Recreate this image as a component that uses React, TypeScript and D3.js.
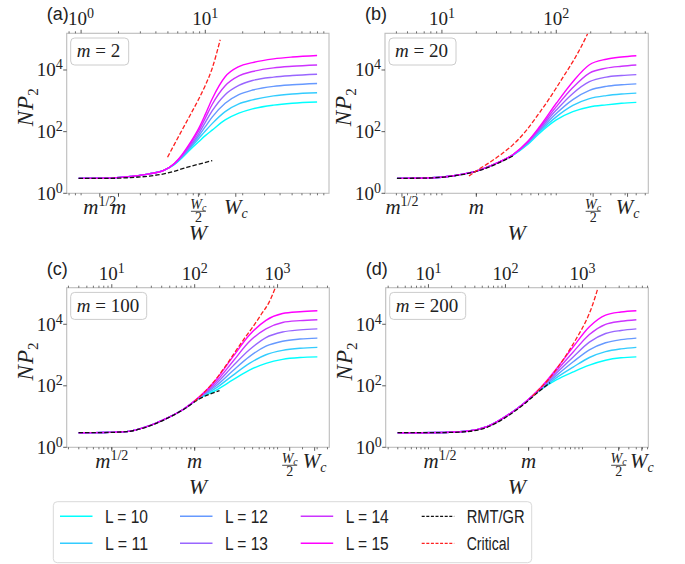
import React from "react";
import * as d3 from "d3";

// ---------------- DATA (log10 W grid, log10 N·P2 values) ----------------
const Ls = [10, 11, 12, 13, 14, 15];
const mValues = [2, 20, 100, 200];
const WcValues = [17.6, 420, 2800, 5900];
const panelLetters = ["(a)", "(b)", "(c)", "(d)"];
const yTickExps = [0, 2, 4];
const legendRMT = "RMT/GR";
const legendCrit = "Critical";

// panel (a): m = 2
const a_logW = [-0.02, 0.2, 0.4, 0.55, 0.67, 0.75, 0.81, 0.88, 0.946, 1.0, 1.055, 1.16, 1.27, 1.38, 1.55, 1.7, 1.9];
const a_L10 = [0.485, 0.49, 0.55, 0.63, 0.75, 0.93, 1.14, 1.42, 1.67, 1.87, 2.05, 2.38, 2.60, 2.74, 2.86, 2.92, 2.96];
const a_L11 = [0.485, 0.49, 0.55, 0.63, 0.75, 0.94, 1.16, 1.47, 1.77, 2.02, 2.26, 2.65, 2.90, 3.03, 3.16, 3.22, 3.26];
const a_L12 = [0.485, 0.49, 0.55, 0.63, 0.75, 0.95, 1.18, 1.51, 1.85, 2.16, 2.47, 2.92, 3.20, 3.35, 3.47, 3.52, 3.56];
const a_L13 = [0.485, 0.49, 0.55, 0.63, 0.75, 0.95, 1.20, 1.55, 1.93, 2.30, 2.67, 3.20, 3.50, 3.66, 3.77, 3.82, 3.86];
const a_L14 = [0.485, 0.49, 0.55, 0.63, 0.75, 0.96, 1.22, 1.60, 2.02, 2.44, 2.88, 3.49, 3.81, 3.95, 4.07, 4.12, 4.16];
const a_L15 = [0.485, 0.49, 0.55, 0.63, 0.75, 0.97, 1.24, 1.65, 2.10, 2.56, 3.06, 3.78, 4.11, 4.24, 4.36, 4.42, 4.47];
const a_rmtW = [-0.02, 0.2, 0.4, 0.55, 0.7, 0.85, 0.95, 1.056];
const a_rmt = [0.485, 0.485, 0.51, 0.56, 0.66, 0.84, 0.95, 1.06];
const a_critW = [0.696, 0.75, 0.81, 0.88, 0.946, 1.0, 1.055, 1.12];
const a_crit = [1.17, 1.58, 2.03, 2.55, 3.05, 3.50, 4.05, 4.98];

// panel (b): m = 20
const b_logW = [0.607, 0.8, 1.0, 1.15, 1.31, 1.475, 1.62, 1.75, 1.854, 2.0, 2.145, 2.29, 2.437, 2.57, 2.70];
const b_L10 = [0.485, 0.49, 0.52, 0.60, 0.73, 0.97, 1.23, 1.58, 1.95, 2.38, 2.65, 2.80, 2.87, 2.92, 2.95];
const b_L11 = [0.485, 0.49, 0.52, 0.60, 0.73, 0.97, 1.24, 1.61, 2.00, 2.48, 2.85, 3.07, 3.17, 3.22, 3.25];
const b_L12 = [0.485, 0.49, 0.52, 0.60, 0.73, 0.97, 1.24, 1.63, 2.04, 2.59, 3.04, 3.34, 3.47, 3.52, 3.55];
const b_L13 = [0.485, 0.49, 0.52, 0.60, 0.73, 0.97, 1.25, 1.65, 2.08, 2.70, 3.24, 3.62, 3.77, 3.82, 3.85];
const b_L14 = [0.485, 0.49, 0.52, 0.60, 0.73, 0.97, 1.25, 1.67, 2.12, 2.81, 3.43, 3.90, 4.06, 4.12, 4.16];
const b_L15 = [0.485, 0.49, 0.52, 0.60, 0.73, 0.97, 1.25, 1.68, 2.16, 2.92, 3.62, 4.17, 4.35, 4.42, 4.46];
const b_rmtW = [0.607, 0.8, 1.0, 1.15, 1.31, 1.475, 1.62];
const b_rmt = [0.485, 0.49, 0.52, 0.59, 0.72, 0.95, 1.21];
const b_critW = [1.236, 1.31, 1.417, 1.52, 1.62, 1.74, 1.854, 1.93, 2.0, 2.07, 2.145, 2.21, 2.276];
const b_crit = [0.56, 0.75, 1.0, 1.27, 1.57, 2.05, 2.62, 3.02, 3.42, 3.83, 4.27, 4.70, 5.19];

// panel (c): m = 100
const c_logW = [0.60, 0.9, 1.18, 1.42, 1.66, 1.86, 2.06, 2.26, 2.46, 2.66, 2.86, 3.06, 3.27, 3.48];
const c_L10 = [0.475, 0.48, 0.51, 0.67, 0.94, 1.23, 1.60, 1.86, 2.19, 2.51, 2.73, 2.86, 2.92, 2.94];
const c_L11 = [0.475, 0.48, 0.51, 0.67, 0.94, 1.23, 1.61, 1.93, 2.34, 2.73, 3.01, 3.15, 3.22, 3.25];
const c_L12 = [0.475, 0.48, 0.51, 0.67, 0.94, 1.23, 1.62, 2.00, 2.49, 2.95, 3.29, 3.45, 3.52, 3.55];
const c_L13 = [0.475, 0.48, 0.51, 0.67, 0.94, 1.23, 1.63, 2.07, 2.64, 3.17, 3.57, 3.75, 3.82, 3.85];
const c_L14 = [0.475, 0.48, 0.51, 0.67, 0.94, 1.23, 1.64, 2.14, 2.79, 3.44, 3.85, 4.06, 4.12, 4.15];
const c_L15 = [0.475, 0.48, 0.51, 0.67, 0.94, 1.23, 1.65, 2.21, 2.94, 3.65, 4.13, 4.35, 4.41, 4.44];
const c_rmtW = [0.60, 0.9, 1.18, 1.42, 1.66, 1.86, 2.06, 2.30];
const c_rmt = [0.475, 0.48, 0.51, 0.66, 0.93, 1.22, 1.58, 1.84];
const c_critW = [2.0, 2.1, 2.2, 2.3, 2.4, 2.5, 2.6, 2.7, 2.8, 2.9, 2.97];
const c_crit = [1.50, 1.75, 2.03, 2.37, 2.75, 3.15, 3.54, 3.91, 4.31, 4.73, 5.17];

// panel (d): m = 200
const d_logW = [0.60, 0.9, 1.2, 1.5, 1.76, 2.02, 2.23, 2.45, 2.66, 2.88, 3.09, 3.3, 3.5, 3.70];
const d_L10 = [0.475, 0.475, 0.48, 0.52, 0.67, 1.03, 1.41, 1.86, 2.19, 2.45, 2.67, 2.83, 2.91, 2.94];
const d_L11 = [0.475, 0.475, 0.48, 0.52, 0.67, 1.03, 1.41, 1.87, 2.26, 2.61, 2.92, 3.11, 3.20, 3.25];
const d_L12 = [0.475, 0.475, 0.48, 0.52, 0.67, 1.03, 1.41, 1.88, 2.33, 2.78, 3.17, 3.40, 3.50, 3.55];
const d_L13 = [0.475, 0.475, 0.48, 0.52, 0.67, 1.03, 1.41, 1.89, 2.41, 2.94, 3.42, 3.70, 3.80, 3.85];
const d_L14 = [0.475, 0.475, 0.48, 0.52, 0.67, 1.03, 1.41, 1.91, 2.48, 3.10, 3.67, 4.00, 4.10, 4.15];
const d_L15 = [0.475, 0.475, 0.48, 0.52, 0.67, 1.03, 1.41, 1.92, 2.55, 3.27, 3.92, 4.30, 4.40, 4.44];
const d_rmtW = [0.60, 0.9, 1.2, 1.5, 1.76, 2.02, 2.23, 2.45, 2.58];
const d_rmt = [0.475, 0.475, 0.48, 0.51, 0.65, 1.0, 1.38, 1.85, 2.10];
const d_critW = [2.35, 2.45, 2.55, 2.65, 2.75, 2.85, 2.95, 3.05, 3.12, 3.20];
const d_crit = [1.66, 1.92, 2.18, 2.50, 2.85, 3.24, 3.66, 4.13, 4.55, 5.17];

const panelData = [
  { grid: a_logW, curves: [a_L10, a_L11, a_L12, a_L13, a_L14, a_L15], rmtW: a_rmtW, rmt: a_rmt, critW: a_critW, crit: a_crit },
  { grid: b_logW, curves: [b_L10, b_L11, b_L12, b_L13, b_L14, b_L15], rmtW: b_rmtW, rmt: b_rmt, critW: b_critW, crit: b_crit },
  { grid: c_logW, curves: [c_L10, c_L11, c_L12, c_L13, c_L14, c_L15], rmtW: c_rmtW, rmt: c_rmt, critW: c_critW, crit: c_crit },
  { grid: d_logW, curves: [d_L10, d_L11, d_L12, d_L13, d_L14, d_L15], rmtW: d_rmtW, rmt: d_rmt, critW: d_critW, crit: d_crit },
];

// ---------------- LAYOUT / STYLE ----------------
const W = 685;
const H = 564;
const boxes = [
  { x0: 66.7, x1: 329, y0: 33.3, y1: 193.3 },
  { x0: 385, x1: 648.3, y0: 33.3, y1: 193.3 },
  { x0: 66.7, x1: 329.3, y0: 287.7, y1: 447.3 },
  { x0: 385.7, x1: 648.3, y0: 287.7, y1: 447.3 },
];
const yTopLog = 5.19;
const lineColors = ["#00ffff", "#33ccff", "#6699ff", "#9966ff", "#cc33ff", "#ff00ff"];
const critColor = "#ff2020";
const rmtColor = "#111111";
const spineColor = "#bdbdbd";
const tickColor = "#333333";
const SERIF = "'Liberation Serif', 'DejaVu Serif', serif";
const SANS = "'Liberation Sans', Arial, sans-serif";
const legendTextWidths: Record<string, number> = { RMT: 58, Crit: 43, L: 43 };

type Pt = [number, number];

function Panel({ idx }: { idx: number }) {
  const box = boxes[idx];
  const data = panelData[idx];
  const m = mValues[idx];
  const Wc = WcValues[idx];
  const allW = [...data.grid, ...data.rmtW, ...data.critW];
  const [mn, mx] = d3.extent(allW) as [number, number];
  const pad = (mx - mn) * 0.05;
  const x = d3.scaleLog().domain([Math.pow(10, mn - pad), Math.pow(10, mx + pad)]).range([box.x0, box.x1]);
  const y = d3.scaleLog().domain([1, Math.pow(10, yTopLog)]).range([box.y1, box.y0]);
  const line = d3
    .line<Pt>()
    .x((d) => x(Math.pow(10, d[0])))
    .y((d) => y(Math.pow(10, d[1])))
    .curve(d3.curveMonotoneX);

  const lo = mn - pad;
  const hi = mx + pad;
  const minors: number[] = [];
  const majors: number[] = [];
  for (let k = Math.floor(lo); k <= Math.ceil(hi); k++) {
    for (let n = 1; n <= 9; n++) {
      const v = n * Math.pow(10, k);
      const lv = Math.log10(v);
      if (lv >= lo && lv <= hi) {
        if (n === 1) majors.push(k);
        else minors.push(v);
      }
    }
  }
  const clipId = `clip-${idx}`;
  const mDigits = String(m).length;
  const annW = 49 + 9 * mDigits;
  const xMid = (box.x0 + box.x1) / 2;
  const yMid = (box.y0 + box.y1) / 2;
  const bottomMajors = [Math.sqrt(m), m, Wc / 2, Wc];
  const tickLabY = box.y1 + 21;

  return (
    <g>
      <defs>
        <clipPath id={clipId}>
          <rect x={box.x0} y={box.y0} width={box.x1 - box.x0} height={box.y1 - box.y0} />
        </clipPath>
      </defs>
      <rect x={box.x0} y={box.y0} width={box.x1 - box.x0} height={box.y1 - box.y0} fill="white" />
      <g clipPath={`url(#${clipId})`}>
        {data.curves.map((c, i) => (
          <path
            key={i}
            d={line(data.grid.map((w, j) => [w, c[j]] as Pt)) || ""}
            fill="none"
            stroke={lineColors[i]}
            strokeWidth={1.4}
          />
        ))}
        <path
          d={line(data.rmtW.map((w, j) => [w, data.rmt[j]] as Pt)) || ""}
          fill="none"
          stroke={rmtColor}
          strokeWidth={1.3}
          strokeDasharray="4.4,2"
        />
        <path
          d={line(data.critW.map((w, j) => [w, data.crit[j]] as Pt)) || ""}
          fill="none"
          stroke={critColor}
          strokeWidth={1.3}
          strokeDasharray="4.4,2"
        />
      </g>
      <rect
        x={box.x0}
        y={box.y0}
        width={box.x1 - box.x0}
        height={box.y1 - box.y0}
        fill="none"
        stroke={spineColor}
        strokeWidth={1.1}
      />
      {/* top axis */}
      {minors.map((v, i) => (
        <line key={"tm" + i} x1={x(v)} x2={x(v)} y1={box.y0} y2={box.y0 - 2} stroke={tickColor} strokeWidth={0.7} />
      ))}
      {majors.map((k) => (
        <g key={"tM" + k}>
          <line x1={x(Math.pow(10, k))} x2={x(Math.pow(10, k))} y1={box.y0} y2={box.y0 - 3.5} stroke={tickColor} strokeWidth={0.8} />
          <text x={x(Math.pow(10, k))} y={box.y0 - 8} textAnchor="middle" fontFamily={SERIF} fontSize={19} fill="#222">
            10<tspan dy={-7} fontSize={14}>{k}</tspan>
          </text>
        </g>
      ))}
      {/* bottom axis */}
      {[...minors, ...majors.map((k) => Math.pow(10, k))].map((v, i) => (
        <line key={"bm" + i} x1={x(v)} x2={x(v)} y1={box.y1} y2={box.y1 + 2} stroke={tickColor} strokeWidth={0.7} />
      ))}
      {bottomMajors.map((v, i) => (
        <line key={"bM" + i} x1={x(v)} x2={x(v)} y1={box.y1} y2={box.y1 + 3.5} stroke={tickColor} strokeWidth={0.8} />
      ))}
      <text x={x(bottomMajors[0])} y={tickLabY} textAnchor="middle" fontFamily={SERIF} fontSize={21} fill="#222">
        <tspan fontStyle="italic">m</tspan>
        <tspan dy={-8} fontSize={14}>1/2</tspan>
      </text>
      <text x={x(bottomMajors[1])} y={tickLabY} textAnchor="middle" fontFamily={SERIF} fontSize={21} fontStyle="italic" fill="#222">
        m
      </text>
      <g>
        <text x={x(bottomMajors[2])} y={box.y1 + 15.5} textAnchor="middle" fontFamily={SERIF} fontSize={14} fill="#222">
          <tspan fontStyle="italic">W</tspan>
          <tspan dy={2.5} fontSize={10} fontStyle="italic">c</tspan>
        </text>
        <line x1={x(bottomMajors[2]) - 7.5} x2={x(bottomMajors[2]) + 7.5} y1={box.y1 + 18} y2={box.y1 + 18} stroke="#222" strokeWidth={0.8} />
        <text x={x(bottomMajors[2])} y={box.y1 + 28.5} textAnchor="middle" fontFamily={SERIF} fontSize={14} fill="#222">
          2
        </text>
      </g>
      <text x={x(bottomMajors[3])} y={tickLabY} textAnchor="middle" fontFamily={SERIF} fontSize={21} fill="#222">
        <tspan fontStyle="italic">W</tspan>
        <tspan dy={4} fontSize={14} fontStyle="italic">c</tspan>
      </text>
      {/* left axis */}
      {yTickExps.map((e) => (
        <g key={"y" + e}>
          <line x1={box.x0} x2={box.x0 - 3.5} y1={y(Math.pow(10, e))} y2={y(Math.pow(10, e))} stroke={tickColor} strokeWidth={0.8} />
          <text x={box.x0 - 4} y={y(Math.pow(10, e)) + 6.5} textAnchor="end" fontFamily={SERIF} fontSize={19} fill="#222">
            10<tspan dy={-7} fontSize={14}>{e}</tspan>
          </text>
        </g>
      ))}
      {/* axis labels */}
      <text
        transform={`translate(${box.x0 - 34},${yMid - 6}) rotate(-90)`}
        textAnchor="middle"
        fontFamily={SERIF}
        fontSize={23}
        fill="#222"
      >
        <tspan fontStyle="italic">N</tspan>
        <tspan fontStyle="italic" dx={1}>P</tspan>
        <tspan dy={5} fontSize={15}>2</tspan>
      </text>
      <text x={xMid} y={box.y1 + 47} textAnchor="middle" fontFamily={SERIF} fontSize={22} fontStyle="italic" fill="#222">
        W
      </text>
      {/* panel letter */}
      <text x={box.x0 - 20} y={box.y0 - 13} fontFamily={SANS} fontSize={18} fill="#222">
        {panelLetters[idx]}
      </text>
      {/* annotation */}
      <rect x={box.x0 + 4} y={box.y0 + 4.7} width={annW} height={27} rx={4} ry={4} fill="white" stroke="#cccccc" strokeWidth={1} />
      <text x={box.x0 + 10} y={box.y0 + 24} fontFamily={SERIF} fontSize={19} fill="#222">
        <tspan fontStyle="italic">m</tspan>
        <tspan> = {m}</tspan>
      </text>
    </g>
  );
}

function Legend() {
  const x0 = 53.3;
  const y0 = 501.7;
  const colX = [60, 180, 300.7, 421.7];
  const rowY = [516.3, 543.3];
  const items: { label: string; color: string; dash?: string; col: number; row: number; tw: number }[] = [];
  Ls.forEach((L, i) => {
    items.push({ label: `L = ${L}`, color: lineColors[i], col: Math.floor(i / 2), row: i % 2, tw: legendTextWidths.L });
  });
  items.push({ label: legendRMT, color: rmtColor, dash: "3,1.6", col: 3, row: 0, tw: legendTextWidths.RMT });
  items.push({ label: legendCrit, color: critColor, dash: "3,1.6", col: 3, row: 1, tw: legendTextWidths.Crit });
  return (
    <g>
      <rect x={x0} y={y0} width={478.4} height={61} rx={4} ry={4} fill="white" stroke="#d9d9d9" strokeWidth={1} />
      {items.map((it, i) => (
        <g key={i}>
          <line
            x1={colX[it.col]}
            x2={colX[it.col] + 32.5}
            y1={rowY[it.row]}
            y2={rowY[it.row]}
            stroke={it.color}
            strokeWidth={it.dash ? 1.2 : 1.5}
            strokeDasharray={it.dash}
          />
          <text
            x={colX[it.col] + 45}
            y={rowY[it.row] + 6.5}
            fontFamily={SANS}
            fontSize={18}
            fill="#222"
            textLength={it.tw}
            lengthAdjust="spacingAndGlyphs"
          >
            {it.label}
          </text>
        </g>
      ))}
    </g>
  );
}

export default function App() {
  return (
    <svg width={W} height={H} style={{ position: "absolute", left: 0, top: 0, background: "white" }}>
      {[0, 1, 2, 3].map((i) => (
        <Panel key={i} idx={i} />
      ))}
      <Legend />
    </svg>
  );
}
